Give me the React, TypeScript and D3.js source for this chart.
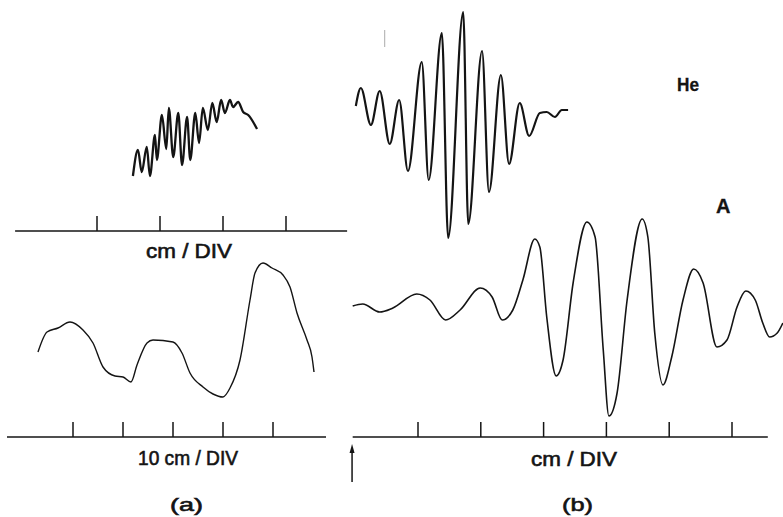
import React from "react";
import * as d3 from "d3";

// ---- Data (x in axis divisions, y in relative amplitude units) ----
// Panel (a), upper trace (fine fringes)
const aUpperX = [1.57, 1.65, 1.71, 1.79, 1.84, 1.92, 1.95, 2.03, 2.10, 2.14, 2.21, 2.29, 2.35, 2.43, 2.48, 2.56, 2.62, 2.68, 2.76, 2.83, 2.90, 2.97, 3.03, 3.11, 3.16, 3.24, 3.32, 3.40, 3.54];
const aUpperY = [5.5, 8.1, 5.9, 8.4, 5.5, 9.6, 7.1, 11.6, 8.2, 12.3, 7.4, 11.8, 6.6, 11.4, 7.1, 11.8, 8.8, 12.3, 10.1, 12.8, 10.9, 13.1, 11.8, 13.1, 12.4, 12.9, 11.9, 11.6, 10.2];

// Panel (a), lower trace (10 cm / DIV)
const aLowerX = [0.30, 0.48, 0.70, 0.94, 1.20, 1.40, 1.60, 1.84, 2.00, 2.16, 2.28, 2.48, 2.60, 3.00, 3.18, 3.34, 3.60, 3.80, 4.00, 4.14, 4.34, 4.54, 4.64, 4.80, 4.98, 5.20, 5.34, 5.48, 5.68, 5.78, 5.82];
const aLowerY = [8.5, 10.5, 10.9, 11.5, 10.7, 9.4, 7.0, 6.1, 6.0, 5.5, 7.2, 9.4, 9.7, 9.5, 8.4, 6.4, 5.0, 4.3, 4.0, 4.9, 7.7, 13.7, 16.4, 17.4, 16.9, 16.2, 15.0, 12.4, 9.7, 8.0, 6.5];

// Panel (b), He trace
const heX = [0.01, 0.09, 0.25, 0.39, 0.55, 0.70, 0.84, 1.06, 1.17, 1.38, 1.48, 1.72, 1.80, 2.02, 2.13, 2.32, 2.45, 2.62, 2.77, 2.94, 3.05, 3.18, 3.29, 3.39];
const heY = [14.4, 16.2, 12.5, 15.9, 10.6, 15.0, 7.9, 18.8, 7.0, 21.7, 1.2, 23.8, 2.6, 19.9, 5.8, 17.5, 8.6, 14.7, 11.4, 13.7, 13.8, 13.3, 14.0, 14.0];

// Panel (b), A (argon) trace
const arX = [-0.04, 0.12, 0.39, 0.60, 0.98, 1.19, 1.44, 1.67, 1.99, 2.18, 2.34, 2.51, 2.67, 2.86, 2.94, 3.05, 3.20, 3.31, 3.47, 3.69, 3.82, 3.95, 4.04, 4.17, 4.33, 4.57, 4.66, 4.77, 4.90, 5.04, 5.22, 5.39, 5.54, 5.76, 5.92, 6.08, 6.22, 6.37, 6.49, 6.60, 6.72, 6.81];
const arY = [13.1, 13.3, 12.5, 12.9, 14.3, 13.7, 11.7, 12.7, 14.9, 14.0, 11.7, 12.7, 15.7, 19.8, 19.0, 12.0, 6.1, 7.7, 15.4, 21.5, 20.0, 8.7, 2.1, 4.4, 13.7, 21.8, 20.0, 10.4, 5.2, 8.0, 13.7, 16.8, 15.4, 9.0, 9.7, 13.0, 14.6, 13.7, 11.4, 10.0, 10.4, 11.4];

// Axis ticks (divisions) and axis extents
const aTopTicks = [1, 2, 3, 4];
const aTopExtent = [-0.3, 4.97];
const aBotTicks = [1, 2, 3, 4, 5];
const aBotExtent = [-0.32, 6.06];
const bTicks = [1, 2, 3, 4, 5, 6];
const bExtent = [-0.04, 6.57];

const labelTopA = "cm / DIV";
const labelBotA = "10 cm / DIV";
const labelB = "cm / DIV";
const panelA = "(a)";
const panelB = "(b)";
const seriesHe = "He";
const seriesAr = "A";

const W = 783;
const H = 517;
const INK = "#141414";
const FONT = "'Liberation Sans', Arial, Helvetica, sans-serif";

export default function App() {
  // scales
  const xTopA = d3.scaleLinear().domain([0, 5]).range([34, 349]);
  const xBotA = d3.scaleLinear().domain([0, 6]).range([23, 323]);
  const xB = d3.scaleLinear().domain([0, 6]).range([355.2, 732]);

  const yUpperA = d3.scaleLinear().domain([0, 25]).range([231, -19]);
  const yLowerA = d3.scaleLinear().domain([0, 25]).range([437, 187]);
  const yHe = d3.scaleLinear().domain([0, 25]).range([250, 0]);
  const yAr = d3.scaleLinear().domain([0, 25]).range([437, 187]);

  const mk = (xs: number[], ys: number[], sx: any, sy: any, curve: any) =>
    d3
      .line<number>()
      .x((_, i) => sx(xs[i]))
      .y((_, i) => sy(ys[i]))
      .curve(curve)(xs.map((_, i) => i)) || "";

  const pUpperA = mk(aUpperX, aUpperY, xTopA, yUpperA, d3.curveMonotoneX);
  const pLowerA = mk(aLowerX, aLowerY, xBotA, yLowerA, d3.curveMonotoneX);
  const pHe = mk(heX, heY, xB, yHe, d3.curveMonotoneX);
  const pAr = mk(arX, arY, xB, yAr, d3.curveMonotoneX);

  const axis = (sx: any, extent: number[], ticks: number[], yLine: number, key: string) => (
    <g key={key} stroke={INK} strokeWidth={1.5}>
      <line x1={sx(extent[0])} x2={sx(extent[1])} y1={yLine} y2={yLine} />
      {ticks.map((t) => (
        <line key={t} x1={sx(t)} x2={sx(t)} y1={yLine} y2={yLine - 15} />
      ))}
    </g>
  );

  const arrowX = xB(-0.05);

  return (
    <svg
      width={W}
      height={H}
      style={{ position: "absolute", left: 0, top: 0, background: "#fff" }}
    >
      <rect x={0} y={0} width={W} height={H} fill="#fff" />

      {/* traces */}
      <path d={pUpperA} fill="none" stroke={INK} strokeWidth={2.3} strokeLinejoin="round" />
      <path d={pLowerA} fill="none" stroke={INK} strokeWidth={1.4} strokeLinejoin="round" />
      <path d={pHe} fill="none" stroke={INK} strokeWidth={2.2} strokeLinejoin="round" />
      <path d={pAr} fill="none" stroke={INK} strokeWidth={1.6} strokeLinejoin="round" />

      {/* faint scan mark */}
      <line x1={xB(0.47)} x2={xB(0.47)} y1={yHe(22)} y2={yHe(20.3)} stroke="#aaa" strokeWidth={1} />

      {/* axes */}
      {axis(xTopA, aTopExtent, aTopTicks, 231, "at")}
      {axis(xBotA, aBotExtent, aBotTicks, 437, "ab")}
      {axis(xB, bExtent, bTicks, 437, "b")}

      {/* arrow */}
      <line x1={arrowX} x2={arrowX} y1={482} y2={450} stroke={INK} strokeWidth={1.5} />
      <path d={`M${arrowX - 2.5},${453} L${arrowX},${444} L${arrowX + 2.5},${453} Z`} fill={INK} />

      {/* labels */}
      <g fill={INK} stroke={INK} strokeWidth={0.6} fontFamily={FONT} fontSize={20}>
        <text x={146} y={258} textLength={86} lengthAdjust="spacingAndGlyphs">{labelTopA}</text>
        <text x={138} y={465} textLength={100} lengthAdjust="spacingAndGlyphs">{labelBotA}</text>
        <text x={531} y={466} textLength={86} lengthAdjust="spacingAndGlyphs">{labelB}</text>
        <text x={170} y={511} fontSize={19} textLength={33} lengthAdjust="spacingAndGlyphs">{panelA}</text>
        <text x={562} y={511} fontSize={19} textLength={31} lengthAdjust="spacingAndGlyphs">{panelB}</text>
        <text x={677} y={91} fontSize={19} strokeWidth={0.3} fontWeight="bold" textLength={22} lengthAdjust="spacingAndGlyphs">{seriesHe}</text>
        <text x={716} y={213} fontSize={20} strokeWidth={0.3} fontWeight="bold">{seriesAr}</text>
      </g>
    </svg>
  );
}
